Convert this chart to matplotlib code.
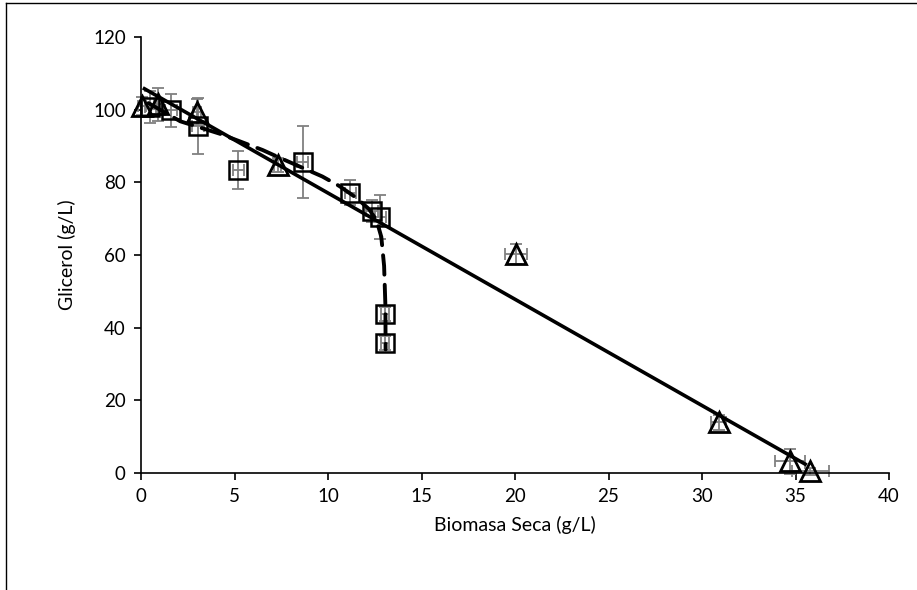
import matplotlib
matplotlib.use("Agg")
import matplotlib.pyplot as plt
from matplotlib.lines import Line2D

# Experimental series 1 (squares) with x/y standard deviations
sq_x = [0.5, 1.6, 3.05, 5.2, 8.65, 11.2, 12.35, 12.8, 13.05, 13.05]
sq_y = [100.7, 99.8, 95.5, 83.4, 85.6, 77.2, 72.2, 70.5, 43.8, 35.8]
sq_xerr = [0.3, 0.3, 0.3, 0.3, 0.3, 0.3, 0.3, 0.3, 0.2, 0.2]
sq_yerr = [4.5, 4.5, 7.7, 5.2, 10.0, 3.4, 3.0, 6.0, 2.0, 2.0]

# Experimental series 2 (triangles)
tri_x = [0.05, 0.9, 3.0, 7.3, 20.05, 30.9, 34.7, 35.8]
tri_y = [101.0, 101.5, 99.4, 84.8, 60.3, 13.9, 3.2, 0.5]
tri_xerr = [0.2, 0.2, 0.2, 0.2, 0.6, 0.4, 0.8, 1.0]
tri_yerr = [2.5, 4.5, 3.5, 2.0, 2.8, 2.0, 3.5, 1.0]

# Model curve for series 1 (dashed)
model_x = [0.4, 2.1, 4.2, 6.5, 7.4, 9.7, 10.6, 11.5, 12.2, 12.6, 12.85, 13.0, 13.07, 13.08]
model_y = [101.8, 96.8, 93.4, 88.9, 86.8, 81.6, 79.0, 75.8, 72.6, 69.5, 65.0, 57.0, 46.0, 34.0]

# Linear trend for series 2 (solid)
trend_x = [0.1, 35.6]
trend_y = [106.0, 2.2]

plt.rcParams["font.family"] = ["Lato", "DejaVu Sans"]

fig = plt.figure(figsize=(9.17, 5.9), dpi=100)
ax = fig.add_axes([141 / 917, 1 - 473 / 590, (889 - 141) / 917, (473 - 37) / 590])

err_kw = dict(fmt="none", ecolor="#808080", elinewidth=1.3, capsize=4, capthick=1.3, zorder=2)
for xs, ys, xe, ye in ((sq_x, sq_y, sq_xerr, sq_yerr), (tri_x, tri_y, tri_xerr, tri_yerr)):
    eb = ax.errorbar(xs, ys, xerr=xe, yerr=ye, **err_kw)
    for art in eb.lines[1] + eb.lines[2]:
        art.set_clip_on(False)

ax.plot(trend_x, trend_y, color="black", lw=2.6, zorder=3, solid_capstyle="butt")
ax.plot(model_x, model_y, color="black", lw=2.8, ls=(0, (5, 2.6)), zorder=3,
        dash_capstyle="round")

ax.plot(sq_x, sq_y, ls="none", marker="s", ms=12.5, mfc="none", mec="black", mew=1.8,
        zorder=4, clip_on=False)
ax.plot(tri_x, tri_y, ls="none", marker="^", ms=14.5, mfc="none", mec="black", mew=2.0,
        zorder=4, clip_on=False)

ax.set_xlim(0, 40)
ax.set_ylim(0, 120)
ax.set_xticks(range(0, 41, 5))
ax.set_yticks(range(0, 121, 20))
ax.spines["top"].set_visible(False)
ax.spines["right"].set_visible(False)
for s in ("left", "bottom"):
    ax.spines[s].set_linewidth(1.2)
ax.tick_params(direction="out", length=5, width=1.2, labelsize=13.5, pad=6)
ax.set_xlabel("Biomasa Seca (g/L)", fontsize=14, labelpad=8)
ax.set_ylabel("Glicerol (g/L)", fontsize=14, labelpad=12)

# chart frame (left and top edges)
fig.add_artist(Line2D([6 / 917, 6 / 917], [0, 1 - 3 / 590], color="black", lw=1.0))
fig.add_artist(Line2D([6 / 917, 1], [1 - 3 / 590, 1 - 3 / 590], color="black", lw=1.0))

fig.savefig("out.png", dpi=100, facecolor="white")
